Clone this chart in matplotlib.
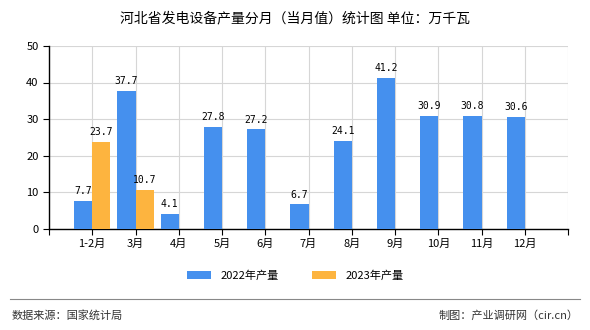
import numpy as np
import matplotlib
matplotlib.use('Agg')
from matplotlib import pyplot as plt
from matplotlib.lines import Line2D

plt.rcParams['font.family'] = ['Noto Sans CJK SC', 'DejaVu Sans']

months = ['1-2月', '3月', '4月', '5月', '6月', '7月', '8月', '9月', '10月', '11月', '12月']
v2022 = [7.7, 37.7, 4.1, 27.8, 27.2, 6.7, 24.1, 41.2, 30.9, 30.8, 30.6]
v2023 = [23.7, 10.7]
yticks = [0, 10, 20, 30, 40, 50]

blue = '#4590EE'
orange = '#FDB43F'

fig = plt.figure(figsize=(5.9, 3.3), dpi=100)
ax = fig.add_axes([0.083, 0.306, 0.880, 0.555])

x = np.arange(len(months))
w = 0.42
x22 = x - w / 2
x23 = x[:len(v2023)] + w / 2

ax.bar(x22, v2022, w, color=blue, label='2022年产量', zorder=3)
ax.bar(x23, v2023, w, color=orange, label='2023年产量', zorder=3)

lab_font = dict(ha='center', va='bottom', fontsize=7, family='DejaVu Sans Mono')
for xi, v in zip(x22, v2022):
    ax.text(xi, v + 1.3, f'{v}', **lab_font)
for xi, v in zip(x23, v2023):
    ax.text(xi, v + 1.3, f'{v}', **lab_font)

ax.set_xlim(-1, len(months))
ax.set_ylim(0, 50)
ax.set_yticks(yticks)
ax.set_xticks(np.arange(-1, len(months) + 1))
ax.set_xticklabels([''] + months + [''], fontsize=8)
ax.tick_params(axis='y', labelsize=8, length=4)
ax.tick_params(axis='x', length=4, pad=3)
ax.grid(True, color='#d6d6d6', linewidth=0.8, zorder=0)
for s in ['top', 'right']:
    ax.spines[s].set_visible(False)
ax.spines['left'].set_linewidth(1.0)
ax.spines['bottom'].set_linewidth(1.0)

fig.text(0.5, 0.945, '河北省发电设备产量分月（当月值）统计图 单位：万千瓦', ha='center', va='center', fontsize=10)

fig.legend(loc='center', bbox_to_anchor=(0.5, 0.165), ncol=2, frameon=False,
           fontsize=8, handlelength=2.2, handleheight=0.8, columnspacing=3)

fig.add_artist(Line2D([0.017, 0.983], [0.093, 0.093], color='#888888', linewidth=0.8))
fig.text(0.02, 0.045, '数据来源：国家统计局', ha='left', va='center', fontsize=8, color='#333333')
fig.text(0.98, 0.045, '制图：产业调研网（cir.cn）', ha='right', va='center', fontsize=8, color='#333333')

fig.savefig('out.png', dpi=100)
